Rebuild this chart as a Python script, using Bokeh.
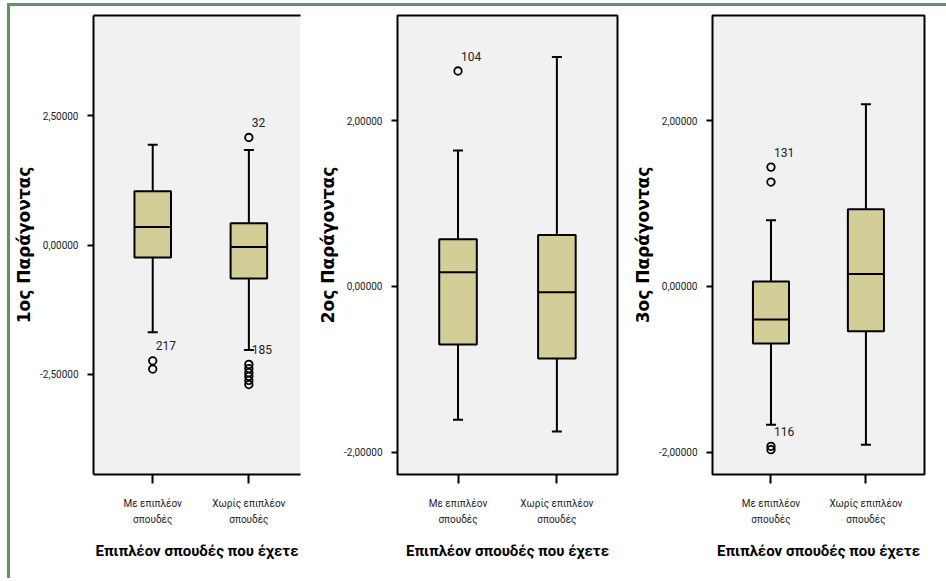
from bokeh.plotting import figure
from bokeh.layouts import row
from bokeh.models import Range1d, FixedTicker, LinearAxis
from bokeh.core.properties import value
from bokeh.embed import file_html
from bokeh.resources import INLINE

# ---------------- data ----------------
categories = ["Με επιπλέον σπουδές", "Χωρίς επιπλέον σπουδές"]
category_tick_labels = ["Με επιπλέον\nσπουδές", "Χωρίς επιπλέον\nσπουδές"]
x_title = "Επιπλέον σπουδές που έχετε"

# Factor 1
f1_title = "1ος Παράγοντας"
f1_lower = [-1.69, -2.03]
f1_q1 = [-0.24, -0.65]
f1_median = [0.35, -0.04]
f1_q3 = [1.04, 0.42]
f1_upper = [1.94, 1.84]
f1_out_cat = [0, 0, 1, 1, 1, 1, 1, 1, 1]
f1_out_val = [-2.24, -2.40, 2.08, -2.31, -2.39, -2.47, -2.54, -2.62, -2.70]
f1_lab_cat = [0, 1, 1]
f1_lab_val = [-2.24, 2.08, -2.31]
f1_lab_text = ["217", "32", "185"]
f1_ticks = [-2.5, 0.0, 2.5]
f1_tick_labels = ["-2,50000", "0,00000", "2,50000"]
f1_yrange = (-4.44, 4.44)

# Factor 2
f2_title = "2ος Παράγοντας"
f2_lower = [-1.61, -1.75]
f2_q1 = [-0.70, -0.87]
f2_median = [0.17, -0.07]
f2_q3 = [0.57, 0.62]
f2_upper = [1.64, 2.77]
f2_out_cat = [0]
f2_out_val = [2.60]
f2_lab_cat = [0]
f2_lab_val = [2.60]
f2_lab_text = ["104"]
f2_ticks = [-2.0, 0.0, 2.0]
f2_tick_labels = ["-2,00000", "0,00000", "2,00000"]
f2_yrange = (-2.27, 3.27)

# Factor 3
f3_title = "3ος Παράγοντας"
f3_lower = [-1.67, -1.91]
f3_q1 = [-0.69, -0.54]
f3_median = [-0.40, 0.15]
f3_q3 = [0.06, 0.93]
f3_upper = [0.80, 2.20]
f3_out_cat = [0, 0, 0, 0]
f3_out_val = [1.44, 1.26, -1.93, -1.97]
f3_lab_cat = [0, 0]
f3_lab_val = [1.44, -1.93]
f3_lab_text = ["131", "116"]
f3_ticks = [-2.0, 0.0, 2.0]
f3_tick_labels = ["-2,00000", "0,00000", "2,00000"]
f3_yrange = (-2.27, 3.27)

# ---------------- style ----------------
NARROW = "Roboto"
WIDE_BOLD = "DejaVu Sans"
BOX_FILL = "#D3CE97"
FRAME_FILL = "#F0F1F0"
GREEN = "#5B965F"
BOX_W = 0.38
HEIGHT = 578


def make_panel(width, bl, br, bt, bb, xr, title, lower, q1, med, q3, upper,
               out_cat, out_val, lab_cat, lab_val, lab_text, ticks, tick_labels,
               yr, open_right=False):
    if open_right:
        css = {
            "background-image": f"linear-gradient({GREEN},{GREEN}), linear-gradient({GREEN},{GREEN})",
            "background-size": "100% 3px, 3px 100%",
            "background-position": "7px 3px, 7px 3px",
            "background-repeat": "no-repeat",
        }
    else:
        css = {
            "background-image": f"linear-gradient({GREEN},{GREEN})",
            "background-size": "100% 3px",
            "background-position": "0 3px",
            "background-repeat": "no-repeat",
        }
    p = figure(width=width, height=HEIGHT, x_range=Range1d(*xr), y_range=Range1d(*yr),
               output_backend="svg", toolbar_location=None,
               min_border_left=bl, min_border_right=br, min_border_top=bt,
               min_border_bottom=bb, styles=css)
    p.background_fill_color = FRAME_FILL
    p.border_fill_color = None
    p.xgrid.visible = False
    p.ygrid.visible = False

    xs = [i + 0.5 for i in range(len(categories))]

    # whiskers
    p.segment(x0=xs, x1=xs, y0=q3, y1=upper, line_color="black", line_width=2)
    p.segment(x0=xs, x1=xs, y0=q1, y1=lower, line_color="black", line_width=2)
    p.scatter(x=xs, y=upper, marker="dash", size=10, line_color="black", line_width=2)
    p.scatter(x=xs, y=lower, marker="dash", size=10, line_color="black", line_width=2)
    # boxes
    p.vbar(x=xs, width=BOX_W, bottom=q1, top=q3, fill_color=BOX_FILL,
           line_color="black", line_width=2)
    # medians
    p.segment(x0=[x - BOX_W / 2 for x in xs], x1=[x + BOX_W / 2 for x in xs],
              y0=med, y1=med, line_color="black", line_width=2)
    # outliers
    p.scatter(x=[xs[c] for c in out_cat], y=out_val, marker="circle", size=7.5,
              fill_color=None, line_color="black", line_width=1.8)
    p.text(x=[xs[c] for c in lab_cat], y=lab_val, text=lab_text, x_offset=3,
           y_offset=-15, text_font=value(NARROW), text_font_size="12px",
           text_baseline="middle", text_align="left", text_color="#222222")

    # x axis
    xa = p.xaxis[0]
    xa.ticker = FixedTicker(ticks=xs)
    xa.major_label_overrides = {x: lab for x, lab in zip(xs, category_tick_labels)}
    xa.major_tick_in = 0
    xa.major_tick_out = 9
    xa.major_tick_line_width = 2
    xa.minor_tick_line_color = None
    xa.major_label_text_font = NARROW
    xa.major_label_text_font_size = "10px"
    xa.major_label_text_line_height = 1.5
    xa.major_label_text_color = "#222222"
    xa.major_label_standoff = 14
    xa.axis_label = x_title
    xa.axis_label_text_font = NARROW
    xa.axis_label_text_font_style = "bold"
    xa.axis_label_text_font_size = "15px"
    xa.axis_label_text_color = "black"
    xa.axis_label_standoff = 14

    # y axis
    ya = p.yaxis[0]
    ya.ticker = FixedTicker(ticks=ticks)
    ya.major_label_overrides = {t: lab for t, lab in zip(ticks, tick_labels)}
    ya.major_tick_in = 0
    ya.major_tick_out = 6
    ya.major_tick_line_width = 2
    ya.minor_tick_line_color = None
    ya.major_label_text_font = NARROW
    ya.major_label_text_font_size = "10px"
    ya.major_label_text_color = "#222222"
    ya.major_label_standoff = 9
    ya.axis_label = title
    ya.axis_label_text_font = WIDE_BOLD
    ya.axis_label_text_font_style = "bold"
    ya.axis_label_text_font_size = "17px"
    ya.axis_label_text_color = "black"
    ya.axis_label_standoff = 3

    if open_right:
        p.outline_line_color = None
        xa.axis_line_width = 2
        ya.axis_line_width = 2
        top_axis = LinearAxis(ticker=FixedTicker(ticks=[]), axis_line_width=2,
                              axis_line_color="black", major_tick_line_color=None,
                              minor_tick_line_color=None,
                              major_label_text_font_size="0px")
        p.add_layout(top_axis, "above")
    else:
        p.outline_line_color = "black"
        p.outline_line_width = 2
        xa.axis_line_color = None
        ya.axis_line_color = None
    return p


p1 = make_panel(312, 93, 12, 15, 101, (-0.116, 2.037), f1_title, f1_lower, f1_q1,
                f1_median, f1_q3, f1_upper, f1_out_cat, f1_out_val, f1_lab_cat,
                f1_lab_val, f1_lab_text, f1_ticks, f1_tick_labels, f1_yrange,
                open_right=True)
p2 = make_panel(318, 85, 13, 14, 102, (-0.112, 2.113), f2_title, f2_lower, f2_q1,
                f2_median, f2_q3, f2_upper, f2_out_cat, f2_out_val, f2_lab_cat,
                f2_lab_val, f2_lab_text, f2_ticks, f2_tick_labels, f2_yrange)
p3 = make_panel(316, 78, 22, 14, 104, (-0.116, 2.117), f3_title, f3_lower, f3_q1,
                f3_median, f3_q3, f3_upper, f3_out_cat, f3_out_val, f3_lab_cat,
                f3_lab_val, f3_lab_text, f3_ticks, f3_tick_labels, f3_yrange)

layout = row(p1, p2, p3, spacing=0)

open("out.html", "w").write(file_html(layout, INLINE))
